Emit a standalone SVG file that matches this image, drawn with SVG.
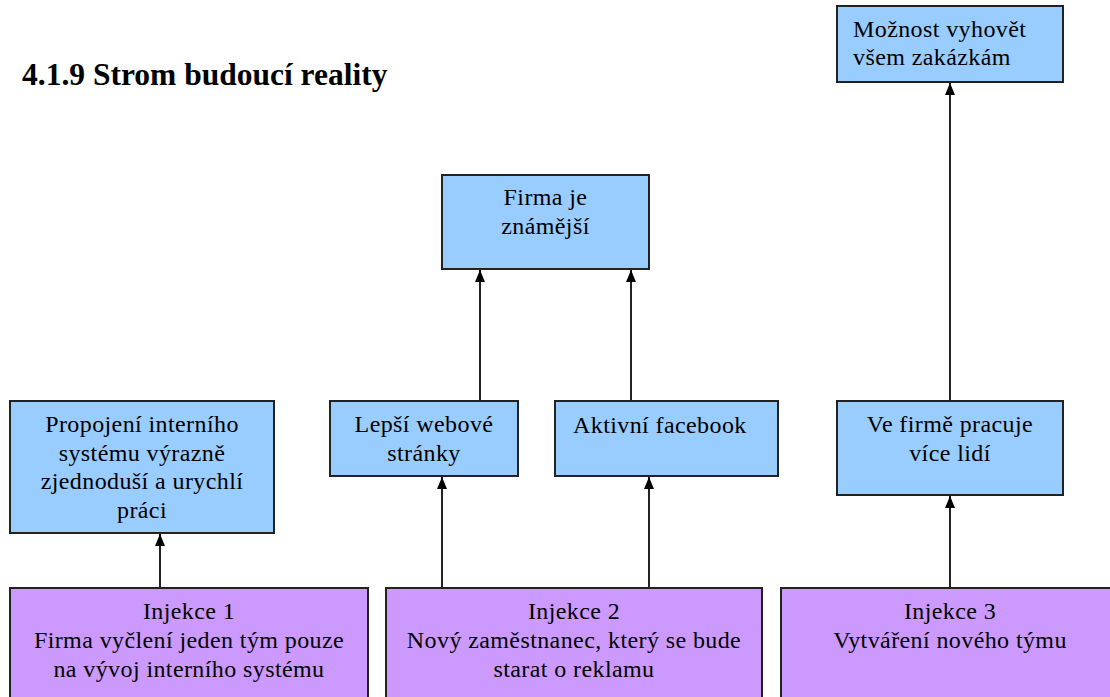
<svg xmlns="http://www.w3.org/2000/svg" width="1110" height="697" viewBox="0 0 1110 697">
<style>
.blue{fill:#99CCFF;stroke:#222;stroke-width:2}
.purple{fill:#CC99FF;stroke:#222;stroke-width:2}
text{font-family:"Liberation Serif","Times New Roman",serif;font-size:24px;letter-spacing:0.4px;fill:#000}
.c{text-anchor:middle}
.title{font-size:31.5px;font-weight:bold;letter-spacing:0}
.conn line{stroke:#222;stroke-width:2}
</style>
<defs>
<marker id="arr" markerUnits="userSpaceOnUse" markerWidth="12" markerHeight="10" refX="12" refY="5" orient="auto">
<path d="M0,0 L12,5 L0,10 z" fill="#000"/>
</marker>
</defs>
<rect width="1110" height="697" fill="#fff"/>
<text class="title" x="22" y="85">4.1.9 Strom budoucí reality</text>

<g id="conn" class="conn">
<line x1="160" y1="588" x2="160" y2="534" marker-end="url(#arr)"/>
<line x1="442" y1="588" x2="442" y2="477" marker-end="url(#arr)"/>
<line x1="649" y1="588" x2="649" y2="477" marker-end="url(#arr)"/>
<line x1="480" y1="401" x2="480" y2="270" marker-end="url(#arr)"/>
<line x1="631" y1="401" x2="631" y2="270" marker-end="url(#arr)"/>
<line x1="950" y1="588" x2="950" y2="496" marker-end="url(#arr)"/>
<line x1="950" y1="401" x2="950" y2="83" marker-end="url(#arr)"/>
</g>

<g id="n-propojeni">
<rect class="blue" x="10" y="401" width="264" height="132"/>
<text class="c" x="142" y="432">Propojení interního</text>
<text class="c" x="142" y="460.5">systému výrazně</text>
<text class="c" x="142" y="489">zjednoduší a urychlí</text>
<text class="c" x="142" y="517.5">práci</text>
</g>

<g id="n-lepsi">
<rect class="blue" x="330" y="401" width="188" height="75"/>
<text class="c" x="424" y="432">Lepší webové</text>
<text class="c" x="424" y="460.5">stránky</text>
</g>

<g id="n-aktivni">
<rect class="blue" x="555" y="401" width="223" height="75"/>
<text x="573" y="433">Aktivní facebook</text>
</g>

<g id="n-vefirme">
<rect class="blue" x="837" y="401" width="226" height="94"/>
<text class="c" x="950" y="432">Ve firmě pracuje</text>
<text class="c" x="950" y="460.5">více lidí</text>
</g>

<g id="n-firma">
<rect class="blue" x="442" y="175" width="207" height="94"/>
<text class="c" x="545.5" y="205">Firma je</text>
<text class="c" x="545.5" y="233.5">známější</text>
</g>

<g id="n-moznost">
<rect class="blue" x="837" y="6" width="226" height="76"/>
<text x="853" y="37">Možnost vyhovět</text>
<text x="853" y="65">všem zakázkám</text>
</g>

<g id="n-injekce1">
<rect class="purple" x="10" y="588" width="358" height="130"/>
<text class="c" x="189" y="619">Injekce 1</text>
<text class="c" x="189" y="648">Firma vyčlení jeden tým pouze</text>
<text class="c" x="189" y="677">na vývoj interního systému</text>
</g>

<g id="n-injekce2">
<rect class="purple" x="386" y="588" width="376" height="130"/>
<text class="c" x="574" y="619">Injekce 2</text>
<text class="c" x="574" y="648">Nový zaměstnanec, který se bude</text>
<text class="c" x="574" y="677">starat o reklamu</text>
</g>

<g id="n-injekce3">
<rect class="purple" x="781" y="588" width="340" height="130"/>
<text class="c" x="950" y="619">Injekce 3</text>
<text class="c" x="950" y="648">Vytváření nového týmu</text>
</g>
</svg>
